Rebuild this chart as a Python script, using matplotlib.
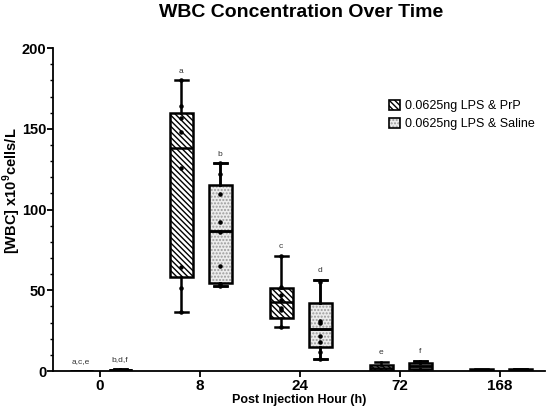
import matplotlib
matplotlib.use("Agg")
import matplotlib.pyplot as plt
from matplotlib.patches import Patch
from matplotlib.legend_handler import HandlerTuple
from matplotlib.ticker import MultipleLocator

plt.rcParams['font.family'] = ['Liberation Sans', 'DejaVu Sans']
plt.rcParams['hatch.linewidth'] = 1.0
plt.rcParams['mathtext.fontset'] = 'custom'
plt.rcParams['mathtext.bf'] = 'Liberation Sans:bold'

hours = ['0', '8', '24', '72', '168']

# five-number summaries
prp_min = [0, 36.7, 27.0, 0.2, 0.3]
prp_q1 = [0, 58.5, 33.0, 0.5, 0.5]
prp_med = [0, 138.0, 42.5, 2.0, 0.8]
prp_q3 = [0, 160.0, 51.5, 3.5, 1.1]
prp_max = [0, 180.0, 71.5, 5.5, 1.4]

sal_min = [0.3, 52.6, 7.4, 0.3, 0.3]
sal_q1 = [0.4, 54.3, 15.0, 1.0, 0.5]
sal_med = [0.6, 86.7, 26.0, 3.0, 0.8]
sal_q3 = [0.9, 115.0, 42.3, 5.0, 1.1]
sal_max = [1.2, 128.6, 56.3, 6.5, 1.4]

# individual animals (only visible at 8h and 24h)
prp_pts = {1: [180, 164, 157, 148, 125.5, 64.6, 51.6, 36.7],
           2: [71.4, 52, 47, 44, 39, 38, 27]}
sal_pts = {1: [128.6, 121.8, 109.4, 92.4, 86, 65, 54, 52.6],
           2: [55, 31, 29.5, 21.9, 18.2, 12, 7.4]}

prp_sig = ['a,c,e', 'a', 'c', 'e', '']
sal_sig = ['b,d,f', 'b', 'd', 'f', '']

fig = plt.figure(figsize=(5.5, 4.12), dpi=100)
ax = fig.add_axes([0.0964, 0.0995, 0.8946, 0.7835])


def stats(lo, q1, med, q3, hi):
    return [dict(whislo=a, q1=b, med=c, q3=d, whishi=e, fliers=[])
            for a, b, c, d, e in zip(lo, q1, med, q3, hi)]


xs = list(range(len(hours)))
pos_prp = [x - 0.19 for x in xs]
pos_sal = [x + 0.20 for x in xs]
lw = 1.8
dense = '\\\\\\\\\\\\'
common = dict(widths=0.23, capwidths=0.13, patch_artist=True, showfliers=False,
              whiskerprops=dict(color='black', linewidth=lw),
              capprops=dict(color='black', linewidth=lw),
              medianprops=dict(color='black', linewidth=lw))

ax.bxp(stats(prp_min, prp_q1, prp_med, prp_q3, prp_max), positions=pos_prp,
       boxprops=dict(facecolor='white', edgecolor='black', linewidth=lw,
                     hatch=dense), **common)
# saline: gray dotted fill first, black outline on top
ax.bxp(stats(sal_min, sal_q1, sal_med, sal_q3, sal_max), positions=pos_sal,
       boxprops=dict(facecolor='#ececec', edgecolor='#9a9a9a', linewidth=0,
                     hatch='.....'), **common)
ax.bxp(stats(sal_min, sal_q1, sal_med, sal_q3, sal_max), positions=pos_sal,
       boxprops=dict(facecolor='none', edgecolor='black', linewidth=lw),
       **common)

for i, pts in prp_pts.items():
    ax.scatter([pos_prp[i]] * len(pts), pts, s=5, color='black', zorder=5)
for i, pts in sal_pts.items():
    ax.scatter([pos_sal[i]] * len(pts), pts, s=5, color='black', zorder=5)

for i in xs:
    ax.text(pos_prp[i], prp_max[i] + 3.5, prp_sig[i], ha='center', va='bottom',
            fontsize=6, color='#333333')
    ax.text(pos_sal[i], sal_max[i] + 3.5, sal_sig[i], ha='center', va='bottom',
            fontsize=6, color='#333333')

ax.set_xlim(-0.47, 4.45)
ax.set_ylim(0, 200)
ax.set_xticks(xs)
ax.set_xticklabels(hours)
ax.yaxis.set_major_locator(MultipleLocator(50))
ax.yaxis.set_minor_locator(MultipleLocator(10))
ax.spines['top'].set_visible(False)
ax.spines['right'].set_visible(False)
ax.spines['left'].set_linewidth(1.3)
ax.spines['bottom'].set_linewidth(1.3)
ax.tick_params(which='major', length=4, width=1.3, labelsize=11, pad=1.5)
ax.tick_params(axis='y', which='major', pad=0.8, labelsize=10.5)
ax.tick_params(which='minor', length=2.5, width=1.0)
for lab in ax.get_xticklabels() + ax.get_yticklabels():
    lab.set_fontweight('bold')

ax.set_xlabel('Post Injection Hour (h)', fontsize=9, fontweight='bold', labelpad=1)
ax.set_ylabel('[WBC] x10$^\\mathbf{9}$cells/L', fontsize=10.5, fontweight='bold')
ax.yaxis.set_label_coords(-0.062, 0.557)
fig.suptitle('WBC Concentration Over Time', fontsize=14, fontweight='bold',
             x=0.547, y=0.99)

h_prp = Patch(facecolor='white', edgecolor='black', hatch=dense, linewidth=1.2)
h_sal = (Patch(facecolor='#ececec', edgecolor='#9a9a9a', hatch='.....', linewidth=0),
         Patch(facecolor='none', edgecolor='black', linewidth=1.2))
ax.legend([h_prp, h_sal], ['0.0625ng LPS & PrP', '0.0625ng LPS & Saline'],
          handler_map={tuple: HandlerTuple(ndivide=1, pad=0)},
          loc='upper left', bbox_to_anchor=(0.66, 0.875), frameon=False,
          fontsize=9, handlelength=0.9, handleheight=0.9, handletextpad=0.4,
          labelspacing=0.45)

fig.savefig('out.png', dpi=100)
